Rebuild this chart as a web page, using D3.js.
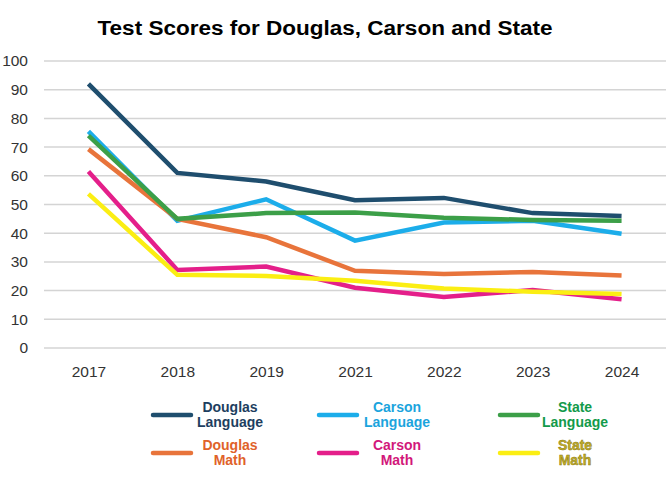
<!DOCTYPE html>
<html><head><meta charset="utf-8">
<script src="https://cdn.jsdelivr.net/npm/d3@7"></script>
<style>body{margin:0;background:#fff;}svg{display:block;}</style>
</head><body>
<svg id="c" width="670" height="485"></svg>
<script>
const years = ["2017","2018","2019","2021","2022","2023","2024"];
const yTicks = [0,10,20,30,40,50,60,70,80,90,100];
const douglasLanguage = [92,61,58,51.5,52.3,47,46];
const carsonLanguage  = [75.5,44.3,51.8,37.4,43.7,44.3,39.8];
const stateLanguage   = [74,45,47,47.2,45.4,44.6,44.3];
const douglasMath     = [69.3,45,38.6,26.9,25.8,26.5,25.3];
const carsonMath      = [61.5,27.2,28.4,21,17.8,20.2,17];
const stateMath       = [53.7,25.5,25.1,23.4,20.7,19.6,18.8];
const seriesNames = ["Douglas Language","Carson Language","State Language","Douglas Math","Carson Math","State Math"];
const lineColors = ["#1f4e6e","#1cadea","#3c9f48","#e8743b","#e41f8a","#fbee13"];
const textColors = ["#1d3e60","#1ba4dd","#129a4a","#e0622a","#d2187a","#c4b02a"];
const seriesData = [douglasLanguage,carsonLanguage,stateLanguage,douglasMath,carsonMath,stateMath];

const svg = d3.select("#c");
const x = d3.scalePoint().domain(years).range([44,666]).padding(0.5);
const y = d3.scaleLinear().domain([0,100]).range([348,61]);

svg.append("text").attr("x",325).attr("y",35).attr("text-anchor","middle")
  .attr("font-family","Liberation Sans, Arial, sans-serif").attr("font-weight","bold")
  .attr("font-size",20).attr("textLength",455).attr("lengthAdjust","spacingAndGlyphs")
  .attr("fill","#000").text("Test Scores for Douglas, Carson and State");

svg.append("g").selectAll("line").data(yTicks).join("line")
  .attr("x1",44).attr("x2",666).attr("y1",d=>y(d)).attr("y2",d=>y(d))
  .attr("stroke","#d4d4d4").attr("stroke-width",1.5);

const yAxis = svg.append("g").attr("transform","translate(44,0)")
  .call(d3.axisLeft(y).tickValues(yTicks).tickSize(0).tickPadding(16));
yAxis.select(".domain").remove();
yAxis.selectAll("text").attr("font-family","Liberation Sans, Arial, sans-serif").attr("font-size",15.5).attr("fill","#333");

const xAxis = svg.append("g").attr("transform","translate(0,348)")
  .call(d3.axisBottom(x).tickSize(0).tickPadding(18));
xAxis.select(".domain").remove();
xAxis.selectAll("text").attr("font-family","Liberation Sans, Arial, sans-serif").attr("font-size",15.5).attr("fill","#333");

const line = d3.line().x((d,i)=>x(years[i])).y(d=>y(d));
const order = [0,1,3,2,4,5];
svg.append("g").selectAll("path").data(order).join("path")
  .attr("d",i=>line(seriesData[i])).attr("fill","none")
  .attr("stroke",i=>lineColors[i]).attr("stroke-width",4.5)
  .attr("stroke-linejoin","miter").attr("stroke-linecap","butt");

const legX = [153,319,500];
const legY = [415,453];
const textX = [230,397,575];
const lg = svg.append("g");
seriesNames.forEach((name,i)=>{
  const col=i%3,row=Math.floor(i/3);
  lg.append("line").attr("x1",legX[col]).attr("x2",legX[col]+38)
    .attr("y1",legY[row]).attr("y2",legY[row])
    .attr("stroke",lineColors[i]).attr("stroke-width",4.5).attr("stroke-linecap","round");
  const parts=name.split(" ");
  const t=lg.append("text").attr("text-anchor","middle")
    .attr("font-family","Liberation Sans, Arial, sans-serif").attr("font-weight","bold")
    .attr("font-size",14).attr("fill",textColors[i]);
  if(i===5){t.attr("stroke","#8a7a10").attr("stroke-width",0.5);}
  parts.forEach((p,k)=>{
    t.append("tspan").attr("x",textX[col]).attr("y",legY[row]-3+k*14.5).text(p);
  });
});
</script>
</body></html>
